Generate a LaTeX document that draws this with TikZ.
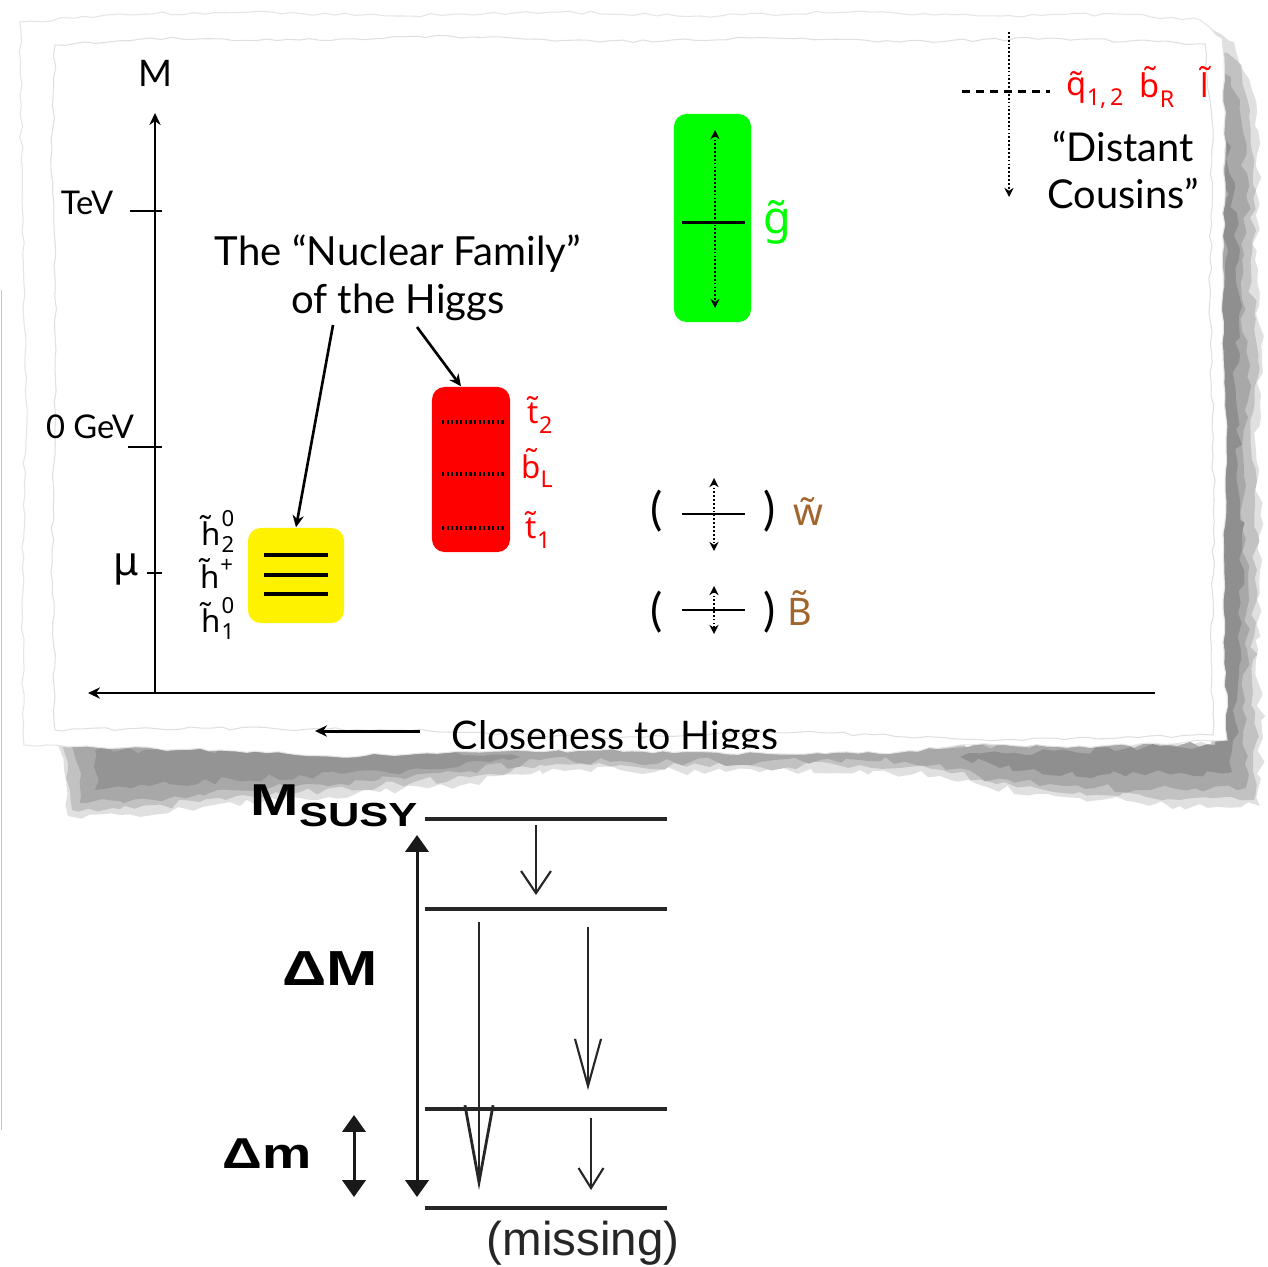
\documentclass[tikz,border=0pt]{standalone}
\usepackage{fontspec}
\setmainfont{Lato}
\newfontfamily\partfont{Noto Sans}
\newfontfamily\helv{Liberation Sans}
\usetikzlibrary{arrows.meta,decorations.pathmorphing}
\definecolor{brownlbl}{RGB}{160,100,45}
\newcommand\tld[1]{#1^^^^0303}
\newcommand\subonly[1]{\raisebox{-0.3em}{\fontsize{6.6}{7}\selectfont #1}}
\tikzset{
  axisline/.style={line width=0.75pt, black},
  tipS/.style={-{Stealth[length=3.4pt,width=3.2pt]}},
  gill/.style={font=\fontsize{11.4}{13.7}\selectfont, inner sep=0pt, align=center},
  axlbl/.style={font=\fontsize{9.3}{11}\selectfont, inner sep=0pt},
  part/.style={font=\partfont\fontsize{8.9}{10}\selectfont, inner sep=0pt},
  scripts/.style={font=\partfont\fontsize{6.3}{7.4}\selectfont, inner sep=0pt, align=left},
  bigpart/.style={font=\partfont\fontsize{10.8}{12}\selectfont, inner sep=0pt},
  parenlbl/.style={font=\fontsize{13}{14}\selectfont, inner sep=0pt},
  pbox/.style={rounded corners=3.6pt, inner sep=0pt},
  boxline/.style={line width=0.9pt},
  dotline/.style={line width=1pt, dash pattern=on 0.6pt off 0.7pt},
  dotarrow/.style={line width=0.8pt, dash pattern=on 0.5pt off 0.6pt, {Stealth[length=2.6pt,width=2.6pt]}-{Stealth[length=2.6pt,width=2.6pt]}},
  crossline/.style={line width=0.7pt},
  torn/.style={decorate, decoration={random steps, segment length=3pt, amplitude=0.45pt}},
  tornbig/.style={decorate, decoration={random steps, segment length=3pt, amplitude=1.2pt}},
  lvl/.style={line width=1.3pt, black!85},
  boldlbl/.style={font=\helv\bfseries, inner sep=0pt, anchor=base west},
  dbl/.style={line width=0.85pt, black!90, {Triangle[width=6.6pt,length=4.8pt]}-{Triangle[width=6.6pt,length=4.8pt]}},
  decay/.style={line width=0.6pt, black!85}
}
\begin{document}
\begin{tikzpicture}[x=0.01cm,y=-0.01cm]
\useasboundingbox (0,0) rectangle (1268,1266);
\fill[white] (0,0) rectangle (1268,1266);
\pgfmathsetseed{11}
% ---------- shadow (soft layers) ----------
\fill[black!12, tornbig] (1210,28) -- (1234,42) -- (1252,90) -- (1260,180) -- (1255,260) -- (1262,350) -- (1256,450) -- (1262,560) -- (1258,650) -- (1262,730) -- (1260,806) -- (1180,806) -- (1080,798) -- (990,788) -- (940,776) -- (860,770) -- (760,772) -- (620,770) -- (540,770) -- (470,783) -- (380,792) -- (300,798) -- (200,808) -- (120,815) -- (68,816) -- (64,770) -- (58,745) -- (1210,745) -- cycle;
\fill[black!24, tornbig] (1216,40) -- (1236,60) -- (1250,110) -- (1256,190) -- (1251,270) -- (1258,360) -- (1252,460) -- (1257,570) -- (1253,660) -- (1257,740) -- (1254,800) -- (1180,800) -- (1080,792) -- (990,782) -- (942,770) -- (860,765) -- (760,767) -- (620,765) -- (540,765) -- (470,777) -- (380,786) -- (300,792) -- (200,802) -- (120,809) -- (72,810) -- (68,770) -- (62,745) -- (1212,745) -- cycle;
\fill[black!34, tornbig] (1222,60) -- (1240,100) -- (1247,200) -- (1242,300) -- (1248,400) -- (1243,500) -- (1249,600) -- (1245,700) -- (1246,788) -- (1150,790) -- (1050,784) -- (980,777) -- (940,764) -- (860,760) -- (760,762) -- (620,761) -- (540,760) -- (470,771) -- (380,779) -- (300,785) -- (200,794) -- (120,801) -- (80,803) -- (76,760) -- (70,745) -- (1215,745) -- cycle;
\fill[black!44, tornbig] (1226,140) -- (1240,250) -- (1236,400) -- (1242,550) -- (1237,700) -- (1232,772) -- (1100,775) -- (1000,768) -- (960,757) -- (1215,745) -- cycle;
\fill[black!42, tornbig] (95,750) -- (450,750) -- (520,757) -- (450,768) -- (300,775) -- (150,786) -- (95,790) -- cycle;
% ---------- paper ----------
\filldraw[fill=white, draw=black!10, line width=0.3pt, torn] (20,22) -- (120,14) -- (250,12) -- (400,16) -- (560,12) -- (700,16) -- (850,12) -- (1000,16) -- (1120,14) -- (1200,20) -- (1222,38) -- (1225,150) -- (1222,300) -- (1226,450) -- (1223,600) -- (1227,740) -- (1100,746) -- (960,745) -- (900,752) -- (780,754) -- (600,750) -- (480,752) -- (330,756) -- (220,750) -- (120,748) -- (24,745) -- (22,600) -- (26,400) -- (22,200) -- cycle;
\draw[black!12, line width=0.3pt, torn] (55,45) -- (150,38) -- (300,40) -- (450,36) -- (600,42) -- (750,38) -- (900,42) -- (1050,38) -- (1205,44) -- (1212,120) -- (1210,300) -- (1214,500) -- (1211,660) -- (1213,735) -- (1000,740) -- (800,732) -- (600,738) -- (400,730) -- (200,728) -- (55,730) -- (52,550) -- (56,350) -- (52,150) -- cycle;
\draw[black!22, line width=0.4pt] (1.5,290) -- (1.5,1130);
% ---------- axes ----------
\coordinate (O) at (155,693);
\coordinate (Ytop) at (155,113);
\coordinate (Xr) at (1155,693);
\coordinate (Xl) at (88,693);
\draw[axisline, tipS] (O) -- (Ytop);
\draw[axisline, tipS] (Xr) -- (Xl);
\node[axlbl, font=\fontsize{10.4}{12}\selectfont] (Mlbl) at (155,73) {M};
\coordinate (tev1) at (130,211); \coordinate (tev2) at (162,211);
\coordinate (gev1) at (128,447); \coordinate (gev2) at (162,447);
\coordinate (mu1) at (147,573); \coordinate (mu2) at (162,573);
\draw[axisline] (tev1) -- (tev2);
\draw[axisline] (gev1) -- (gev2);
\draw[axisline] (mu1) -- (mu2);
\node[axlbl] (tevlbl) at (87,203) {TeV};
\node[axlbl] (gevlbl) at (90,427) {0 GeV};
\node[part, font=\partfont\fontsize{11.5}{12}\selectfont] (mulbl) at (126,569) {μ};
% closeness
\coordinate (c1) at (420,731); \coordinate (c2) at (315,731);
\draw[line width=0.85pt, tipS] (c1) -- (c2);
\begin{scope}
\clip (0,0) rectangle (1268,748);
\node[gill, font=\fontsize{11.2}{12}\selectfont, anchor=base west] (close) at (451,749) {Closeness to Higgs};
\end{scope}
% ---------- title ----------
\node[gill] (title) at (398,278) {The “Nuclear Family”\\of the Higgs};
% ---------- yellow box ----------
\node[pbox, fill=yellow, minimum width=0.96cm, minimum height=0.95cm] (Y) at (296,575.5) {};
\draw[boxline] (264,555) -- (328,555);
\draw[boxline] (264,575) -- (328,575);
\draw[boxline] (264,594) -- (328,594);
\node[part] (h2) at (211,530) {\tld{h}};
\node[scripts] (h2s) at (228,531) {0\\2};
\node[part] (hp) at (217,573) {\tld{h}\raisebox{0.5em}{\fontsize{6.3}{7}\selectfont +}};
\node[part] (h1) at (211,617) {\tld{h}};
\node[scripts] (h1s) at (228,618) {0\\1};
% ---------- red box ----------
\node[pbox, fill=red, minimum width=0.78cm, minimum height=1.65cm] (R) at (471,469.5) {};
\draw[dotline] (442,422) -- (504,422);
\draw[dotline] (442,474) -- (504,474);
\draw[dotline] (442,528) -- (504,528);
\node[part, text=red] (t2) at (540,415) {\tld{t}\subonly{2}};
\node[part, text=red] (bL) at (537,468) {\tld{b}\subonly{L}};
\node[part, text=red] (t1) at (538,530) {\tld{t}\subonly{1}};
% title arrows
\coordinate (ta1) at (333,325);
\coordinate (ta2) at (417,327);
\draw[line width=0.75pt, tipS] (ta1) -- (Y.north);
\draw[line width=0.75pt, tipS] (ta2) -- ([xshift=-0.1cm]R.north);
% ---------- green box ----------
\node[pbox, fill=green, minimum width=0.77cm, minimum height=2.08cm] (G) at (712.5,218) {};
\coordinate (g1) at (715,130); \coordinate (g2) at (715,308);
\draw[dotarrow] (g1) -- (g2);
\draw[crossline, line width=0.85pt] (682,222) -- (745,222);
\node[bigpart, text=green, font=\partfont\fontsize{12.8}{14}\selectfont] (glbl) at (777,222) {\tld{g}};
% ---------- wino ----------
\node[parenlbl] (wl) at (657,511) {(};
\node[parenlbl] (wr) at (770,511) {)};
\draw[crossline] (682,514) -- (745,514);
\coordinate (w1) at (714,478); \coordinate (w2) at (714,551);
\draw[dotarrow] (w1) -- (w2);
\node[bigpart, text=brownlbl] (wlbl) at (808,512) {\tld{w}};
% ---------- bino ----------
\node[parenlbl] (bl) at (657,612) {(};
\node[parenlbl] (br) at (770,612) {)};
\draw[crossline] (682,610) -- (745,610);
\coordinate (b1) at (714,586); \coordinate (b2) at (714,634);
\draw[dotarrow] (b1) -- (b2);
\node[bigpart, text=brownlbl] (blbl) at (800,608) {\tld{B}};
% ---------- distant cousins ----------
\coordinate (dc1) at (1009,32); \coordinate (dc2) at (1009,197);
\draw[line width=0.8pt, dash pattern=on 0.5pt off 0.6pt, -{Stealth[length=2.6pt,width=2.6pt]}] (dc1) -- (dc2);
\coordinate (dh1) at (962,91); \coordinate (dh2) at (1050,91);
\draw[line width=0.85pt, dash pattern=on 2.3pt off 1.7pt] (dh1) -- (dh2);
\node[part, text=red, font=\partfont\fontsize{9.3}{10}\selectfont] (q12) at (1095,90) {\tld{q}\subonly{1,\,2}};
\node[part, text=red, font=\partfont\fontsize{9.3}{10}\selectfont] (bR) at (1157,87) {\tld{b}\subonly{R}};
\node[part, text=red, font=\partfont\fontsize{9.3}{10}\selectfont] (ll) at (1205,82) {\tld{l}};
\node[gill, font=\fontsize{11.3}{13.2}\selectfont] (dc) at (1123,170) {“Distant\\Cousins”};
% ---------- bottom diagram ----------
\coordinate (l1a) at (425,819); \coordinate (l1b) at (667,819);
\coordinate (l2a) at (425,909); \coordinate (l2b) at (667,909);
\coordinate (l3a) at (425,1109); \coordinate (l3b) at (667,1109);
\coordinate (l4a) at (425,1208); \coordinate (l4b) at (667,1208);
\draw[lvl] (l1a) -- (l1b);
\draw[lvl] (l2a) -- (l2b);
\draw[lvl] (l3a) -- (l3b);
\draw[lvl, line width=1pt] (l4a) -- (l4b);
\coordinate (D1) at (417,835); \coordinate (D2) at (417,1197);
\draw[dbl] (D1) -- (D2);
\coordinate (d1) at (354,1115); \coordinate (d2) at (354,1197);
\draw[dbl] (d1) -- (d2);
\coordinate (a1s) at (536,825); \coordinate (a1e) at (536,895);
\draw[decay, -{Straight Barb[length=6.3pt,width=8.5pt]}] (a1s) -- (a1e);
\coordinate (a2s) at (479,922); \coordinate (a2e) at (479,1190);
\draw[decay, line width=0.8pt, -{Straight Barb[length=21.9pt,width=8pt]}] (a2s) -- (a2e);
\coordinate (a3s) at (588,927); \coordinate (a3e) at (588,1090);
\draw[decay, -{Straight Barb[length=13.4pt,width=7.4pt]}] (a3s) -- (a3e);
\coordinate (a4s) at (591,1118); \coordinate (a4e) at (591,1190);
\draw[decay, -{Straight Barb[length=5.7pt,width=7.1pt]}] (a4s) -- (a4e);
\node[boldlbl, font=\helv\bfseries\fontsize{12.7}{13}\selectfont] (msusy) at (250,815) {\scalebox{1.3}[1]{M\raisebox{-3.4pt}{\fontsize{9.5}{10}\selectfont SUSY}}};
\node[boldlbl, font=\helv\bfseries\fontsize{14}{15}\selectfont] (dM) at (282,985) {\scalebox{1.25}[1]{ΔM}};
\node[boldlbl, font=\helv\bfseries\fontsize{12.3}{13}\selectfont] (dm) at (222,1168) {\scalebox{1.28}[1]{Δm}};
\node[inner sep=0pt, anchor=base, font=\helv\fontsize{13.5}{14}\selectfont, text=black!85] (miss) at (583,1255) {(missing)};
\end{tikzpicture}
\end{document}
